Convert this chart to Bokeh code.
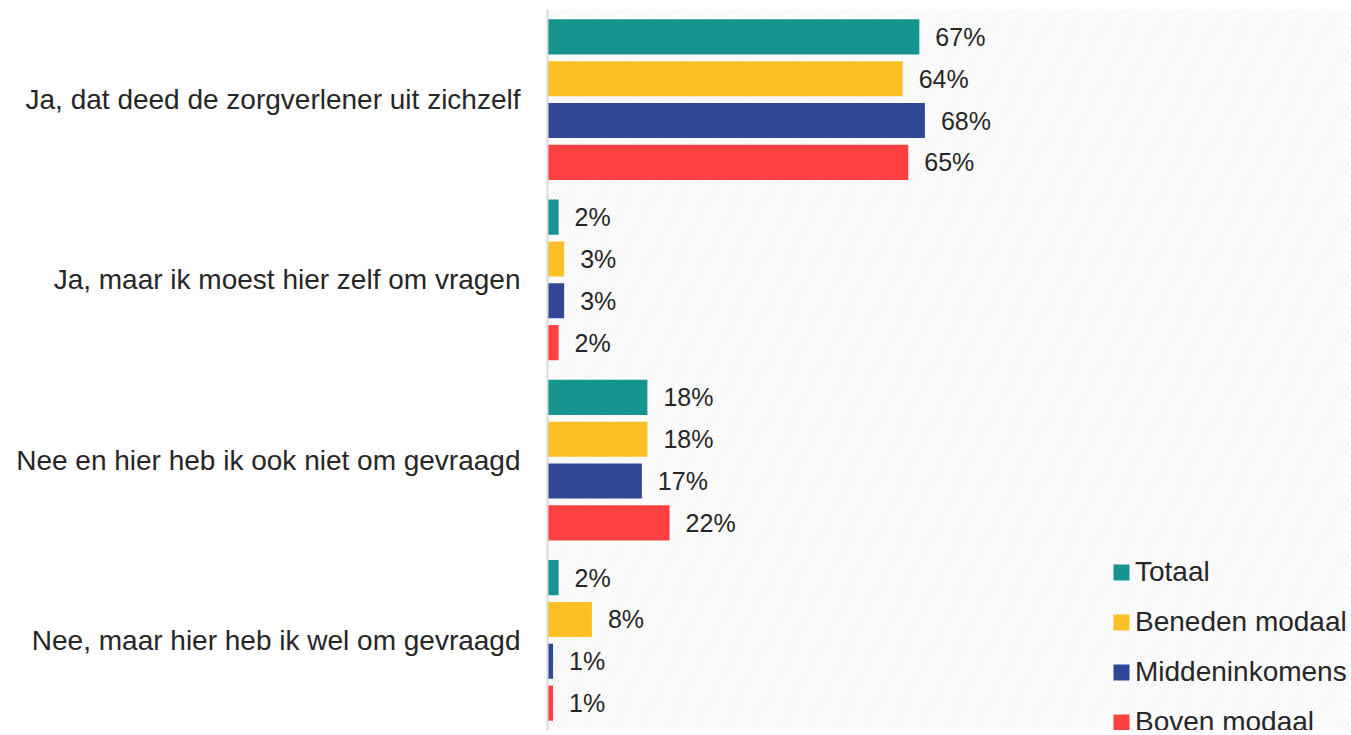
from bokeh.plotting import figure
from bokeh.models import FactorRange, Range1d, ColumnDataSource, Legend, LegendItem, BoxAnnotation
from bokeh.transform import dodge
from bokeh.core.properties import value
from bokeh.embed import file_html
from bokeh.resources import INLINE

categories = [
    "Ja, dat deed de zorgverlener uit zichzelf",
    "Ja, maar ik moest hier zelf om vragen",
    "Nee en hier heb ik ook niet om gevraagd",
    "Nee, maar hier heb ik wel om gevraagd",
]
series_names = ["Totaal", "Beneden modaal", "Middeninkomens", "Boven modaal"]
totaal = [67, 2, 18, 2]
beneden_modaal = [64, 3, 18, 8]
middeninkomens = [68, 3, 17, 1]
boven_modaal = [65, 2, 22, 1]
series_values = [totaal, beneden_modaal, middeninkomens, boven_modaal]
colors = ["#159490", "#FDBF26", "#2F4794", "#FF4141"]
offsets = [0.348, 0.116, -0.116, -0.348]

FONT = "Liberation Sans"
TXT = "#262626"

W, H = 1351, 735
frame_left = 547
px_per_pct = 5.55

p = figure(
    width=W, height=H,
    y_range=FactorRange(*reversed(categories), range_padding=0),
    x_range=Range1d(0, (W - frame_left) / px_per_pct),
    output_backend="svg", toolbar_location=None,
    min_border_left=frame_left, min_border_right=0,
    min_border_top=9, min_border_bottom=5,
)
p.outline_line_color = None
p.background_fill_color = "white"
p.border_fill_color = "white"
p.xgrid.visible = False
p.ygrid.visible = False
p.xaxis.visible = False

ax = p.yaxis[0]
ax.axis_line_color = "#D9D9D9"
ax.axis_line_width = 2
ax.major_tick_line_color = None
ax.minor_tick_line_color = None
ax.major_label_text_font = FONT
ax.major_label_text_font_size = "28px"
ax.major_label_text_color = TXT
ax.major_label_standoff = 21

# faint diagonal background texture
hatch = BoxAnnotation(fill_alpha=0, line_color=None, hatch_pattern="/",
                      hatch_color="#E8E8E8", hatch_alpha=0.7, hatch_scale=7,
                      hatch_weight=1, level="underlay")
p.add_layout(hatch)

items = []
for name, vals, col, off in zip(series_names, series_values, colors, offsets):
    src = ColumnDataSource(dict(cat=categories, v=vals, lbl=[f"{v}%" for v in vals]))
    y = dodge("cat", off, range=p.y_range)
    r = p.hbar(y=y, right="v", left=0, height=0.195, source=src,
               fill_color=col, line_color=None)
    p.text(x="v", y=y, text="lbl", source=src, x_offset=16,
           text_baseline="middle", text_align="left",
           text_font=value(FONT), text_font_size="25px", text_color=TXT)
    items.append(LegendItem(label=name, renderers=[r]))

legend = Legend(items=items, location=(564, -9),
                glyph_width=20, glyph_height=20, label_standoff=4,
                label_height=34, spacing=16, padding=0, margin=0,
                label_text_font=FONT, label_text_font_size="28px",
                label_text_color=TXT, background_fill_alpha=0,
                border_line_color=None)
p.add_layout(legend)

open("out.html", "w").write(file_html(p, INLINE))
